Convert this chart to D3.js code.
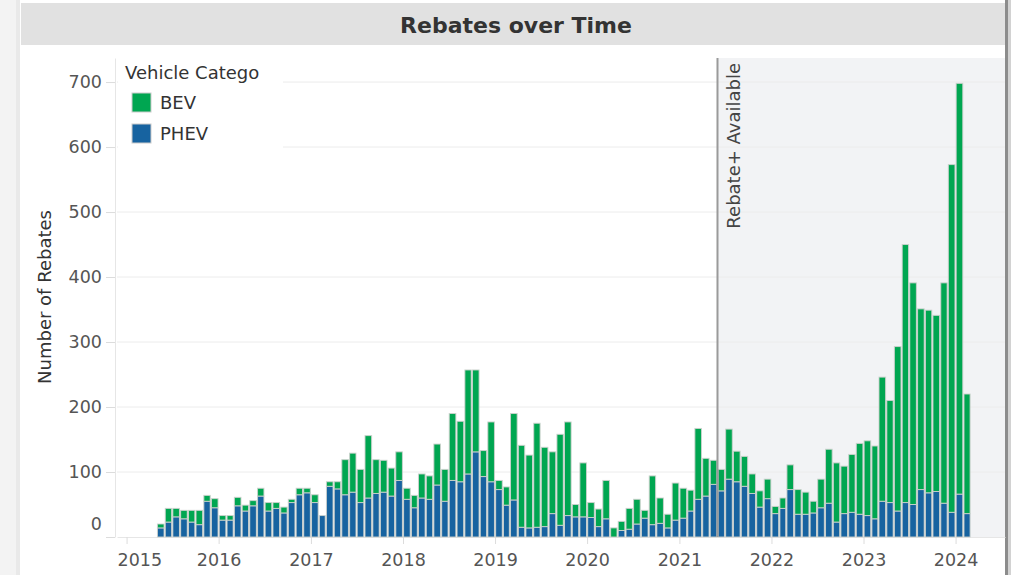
<!DOCTYPE html>
<html>
<head>
<meta charset="utf-8">
<script src="https://cdn.jsdelivr.net/npm/d3@7"></script>
<style>
  body { margin: 0; background: #fff; }
  svg { display: block; font-family: "DejaVu Sans", Verdana, sans-serif; }
</style>
</head>
<body>
<div id="chart"></div>
<script>
// monthly rebate counts, May 2015 .. Feb 2024
var months = [
  "2015-05","2015-06","2015-07","2015-08","2015-09","2015-10","2015-11","2015-12",
  "2016-01","2016-02","2016-03","2016-04","2016-05","2016-06","2016-07","2016-08","2016-09","2016-10","2016-11","2016-12",
  "2017-01","2017-02","2017-03","2017-04","2017-05","2017-06","2017-07","2017-08","2017-09","2017-10","2017-11","2017-12",
  "2018-01","2018-02","2018-03","2018-04","2018-05","2018-06","2018-07","2018-08","2018-09","2018-10","2018-11","2018-12",
  "2019-01","2019-02","2019-03","2019-04","2019-05","2019-06","2019-07","2019-08","2019-09","2019-10","2019-11","2019-12",
  "2020-01","2020-02","2020-03","2020-04","2020-05","2020-06","2020-07","2020-08","2020-09","2020-10","2020-11","2020-12",
  "2021-01","2021-02","2021-03","2021-04","2021-05","2021-06","2021-07","2021-08","2021-09","2021-10","2021-11","2021-12",
  "2022-01","2022-02","2022-03","2022-04","2022-05","2022-06","2022-07","2022-08","2022-09","2022-10","2022-11","2022-12",
  "2023-01","2023-02","2023-03","2023-04","2023-05","2023-06","2023-07","2023-08","2023-09","2023-10","2023-11","2023-12",
  "2024-01","2024-02"
];

var phev = [
  14,23,31,28,23,19,55,45,
  26,26,48,40,48,63,40,44,37,53,65,68,
  53,33,78,74,65,69,53,60,67,69,63,87,
  58,45,60,58,80,55,87,85,97,131,93,85,
  73,49,57,15,14,15,16,36,18,33,31,31,
  30,16,28,0,10,12,20,29,19,21,14,26,
  29,40,58,63,81,71,89,85,78,67,46,59,
  36,44,73,35,35,37,45,52,23,36,38,35,
  33,28,55,53,40,53,50,73,68,70,52,38,
  66,36
];

var bev = [
  6,21,13,13,18,22,9,14,
  7,7,13,9,8,12,13,9,9,5,10,7,
  12,0,7,11,54,60,51,96,52,49,43,44,
  17,19,37,36,63,49,103,93,160,126,40,92,
  14,28,133,126,112,160,122,95,140,144,19,83,
  23,27,59,14,14,32,38,12,75,39,21,57,
  46,32,109,58,37,33,77,47,46,30,25,30,
  11,16,38,38,34,18,44,83,91,73,89,109,
  115,112,191,157,253,397,341,278,281,271,339,535,
  632,184
];

var categories = ["BEV", "PHEV"];
var colors = { BEV: "#00a651", PHEV: "#1763a0" };
var yTicks = [0, 100, 200, 300, 400, 500, 600, 700];
var yearTicks = ["2015","2016","2017","2018","2019","2020","2021","2022","2023","2024"];
var rebatePlusDate = "2021-06-01";

(function() {
  var W = 1012, H = 575;
  var pLeft = 117, pRight = 1005, pTop = 58, pBottom = 537;

  var parseMonth = d3.utcParse("%Y-%m");
  var parseDay = d3.utcParse("%Y-%m-%d");
  var parseYear = d3.utcParse("%Y");

  var rows = months.map(function(m, i) {
    return { date: parseMonth(m), PHEV: phev[i], BEV: bev[i] };
  });

  var x = d3.scaleUtc()
    .domain([parseDay("2014-11-24"), parseDay("2024-07-15")])
    .range([pLeft, pRight]);
  var y = d3.scaleLinear().domain([0, 737]).range([pBottom, pTop]);

  var svg = d3.select("#chart").append("svg")
    .attr("width", W).attr("height", H);

  // card frame
  svg.append("rect").attr("x", 0).attr("y", 0).attr("width", 16).attr("height", H).attr("fill", "#f3f3f3");
  svg.append("rect").attr("x", 16).attr("y", 0).attr("width", 4).attr("height", H).attr("fill", "#e9e9e9");
  svg.append("rect").attr("x", 1005).attr("y", 0).attr("width", 3).attr("height", H).attr("fill", "#8c8c8c");
  svg.append("rect").attr("x", 1008).attr("y", 0).attr("width", 3).attr("height", H).attr("fill", "#d2d2d2");

  svg.append("rect").attr("x", 21).attr("y", 3).attr("width", 984).attr("height", 42).attr("fill", "#e1e1e1");
  svg.append("text")
    .attr("x", 516).attr("y", 33)
    .attr("text-anchor", "middle")
    .attr("font-size", "22px").attr("font-weight", "bold")
    .attr("fill", "#333")
    .text("Rebates over Time");

  // shaded Rebate+ period
  var xLine = x(parseDay(rebatePlusDate));
  svg.append("rect")
    .attr("x", xLine).attr("y", pTop)
    .attr("width", pRight - xLine).attr("height", pBottom - pTop)
    .attr("fill", "#f2f3f5");

  // gridlines
  svg.append("g").selectAll("line")
    .data(yTicks.filter(function(d) { return d > 0; }))
    .enter().append("line")
    .attr("x1", pLeft).attr("x2", pRight)
    .attr("y1", function(d) { return y(d); })
    .attr("y2", function(d) { return y(d); })
    .attr("stroke", "#ececec");

  // y axis
  var yAxis = svg.append("g")
    .attr("transform", "translate(" + (pLeft - 2) + ",0)")
    .call(d3.axisLeft(y).tickValues(yTicks).tickSize(9).tickSizeOuter(0).tickPadding(4));
  yAxis.select(".domain").attr("stroke", "#e6e6e6");
  yAxis.selectAll(".tick line").attr("stroke", "#dcdcdc");
  yAxis.selectAll(".tick text")
    .attr("font-size", "17.5px").attr("fill", "#555")
    .attr("font-family", "DejaVu Sans, Verdana, sans-serif")
    .filter(function(d) { return d === 0; })
    .attr("y", -13);

  // x axis
  var xAxis = svg.append("g")
    .attr("transform", "translate(0," + pBottom + ")")
    .call(d3.axisBottom(x)
      .tickValues(yearTicks.map(parseYear))
      .tickFormat(d3.utcFormat("%Y"))
      .tickSize(7).tickSizeOuter(0).tickPadding(10));
  xAxis.select(".domain").attr("stroke", "#e6e6e6");
  xAxis.selectAll(".tick line").attr("stroke", "#dcdcdc");
  xAxis.selectAll(".tick text")
    .attr("font-size", "17.5px").attr("fill", "#555")
    .attr("font-family", "DejaVu Sans, Verdana, sans-serif")
    .each(function(d) {
      var w = this.getComputedTextLength();
      var cx = x(d);
      if (cx - w / 2 < pLeft) d3.select(this).attr("x", pLeft + w / 2 - cx);
    });

  // stacked bars
  var series = d3.stack().keys(["PHEV", "BEV"])(rows);
  svg.append("g").selectAll("g")
    .data(series)
    .enter().append("g")
    .attr("fill", function(s) { return colors[s.key]; })
    .selectAll("rect")
    .data(function(s) { return s.filter(function(d) { return d[1] > d[0]; }); })
    .enter().append("rect")
    .attr("x", function(d) { return x(d.data.date) + 0.6; })
    .attr("width", function(d) { return x(d3.utcMonth.offset(d.data.date, 1)) - x(d.data.date) - 1.2; })
    .attr("y", function(d) { return y(d[1]); })
    .attr("height", function(d) { return y(d[0]) - y(d[1]); })
    .attr("stroke", "rgba(205,210,205,0.9)")
    .attr("stroke-width", 1);

  // Rebate+ marker
  svg.append("line")
    .attr("x1", xLine).attr("x2", xLine)
    .attr("y1", pTop).attr("y2", pBottom)
    .attr("stroke", "#9a9a9a").attr("stroke-width", 2);
  svg.append("text")
    .attr("transform", "translate(" + (xLine + 23) + "," + 63 + ") rotate(-90)")
    .attr("text-anchor", "end")
    .attr("font-size", "18px").attr("fill", "#444")
    .text("Rebate+ Available");

  // y title
  svg.append("text")
    .attr("transform", "translate(51,297) rotate(-90)")
    .attr("text-anchor", "middle")
    .attr("font-size", "18px").attr("fill", "#333")
    .text("Number of Rebates");

  // legend
  var legend = svg.append("g");
  legend.append("rect")
    .attr("x", pLeft + 1).attr("y", pTop + 1).attr("width", 165).attr("height", 92)
    .attr("fill", "#fff");
  legend.append("text")
    .attr("x", 125).attr("y", 79)
    .attr("font-size", "18px").attr("fill", "#333")
    .text("Vehicle Catego");
  var item = legend.selectAll("g.item")
    .data(categories)
    .enter().append("g")
    .attr("class", "item")
    .attr("transform", function(d, i) { return "translate(0," + (i * 31) + ")"; });
  item.append("rect")
    .attr("x", 132).attr("y", 93).attr("width", 19).attr("height", 19)
    .attr("fill", function(d) { return colors[d]; })
    .attr("stroke", "#ccc").attr("stroke-width", 1);
  item.append("text")
    .attr("x", 160).attr("y", 109)
    .attr("font-size", "18px").attr("fill", "#333")
    .text(function(d) { return d; });
})();
</script>
</body>
</html>
